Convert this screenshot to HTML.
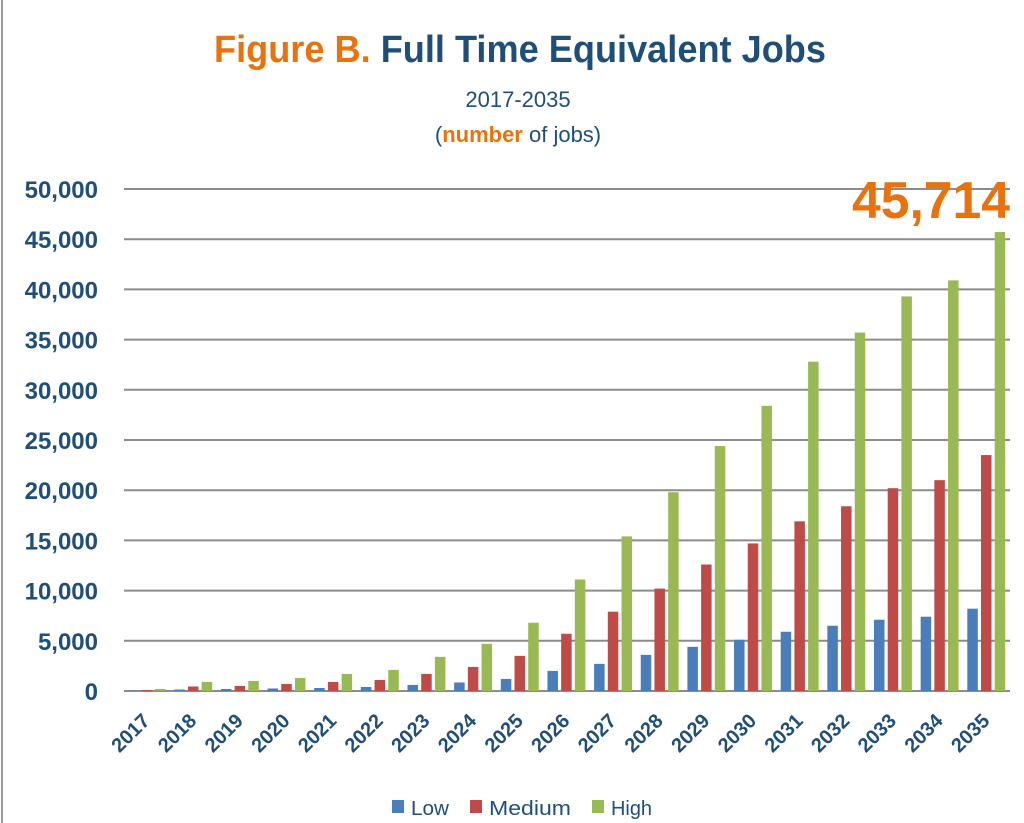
<!DOCTYPE html>
<html><head><meta charset="utf-8"><style>
html,body{margin:0;padding:0;background:#fff;}
body{width:1024px;height:823px;overflow:hidden;position:relative;font-family:"Liberation Sans",sans-serif;}
</style></head><body>
<svg width="1024" height="823" xmlns="http://www.w3.org/2000/svg" style="position:absolute;left:0;top:0">
<line x1="2" y1="0" x2="2" y2="823" stroke="#999" stroke-width="2"/>
<text x="520" y="62" text-anchor="middle" font-family="Liberation Sans Narrow, Liberation Sans, sans-serif" font-weight="bold" font-size="38" textLength="612" lengthAdjust="spacingAndGlyphs"><tspan fill="#e8720c">Figure B.</tspan><tspan fill="#1f4e79"> Full Time Equivalent Jobs</tspan></text>
<text x="518" y="107" text-anchor="middle" font-size="22" fill="#1f4e79">2017-2035</text>
<text x="518" y="142" text-anchor="middle" font-size="22" fill="#1f4e79">(<tspan fill="#e8720c" font-weight="bold">number</tspan> of jobs)</text>
<g id="grid"></g>
<g id="bars"></g>
<text x="1010" y="218" text-anchor="end" font-weight="bold" font-size="52" fill="#e8720c" textLength="158" lengthAdjust="spacingAndGlyphs">45,714</text>
<g fill="#1f4e79">
<rect x="392" y="800" width="12" height="13" fill="#4a7ebb"/><text x="411" y="815" font-size="20" textLength="38" lengthAdjust="spacingAndGlyphs">Low</text>
<rect x="470" y="800" width="12" height="13" fill="#be4b48"/><text x="489" y="815" font-size="20" textLength="82" lengthAdjust="spacingAndGlyphs">Medium</text>
<rect x="592" y="800" width="12" height="13" fill="#98b954"/><text x="611" y="815" font-size="20" textLength="41" lengthAdjust="spacingAndGlyphs">High</text>
</g>
</svg>
<script>
const ns="http://www.w3.org/2000/svg";
const g=document.getElementById('grid'),b=document.getElementById('bars');
function el(t,a,p,txt){const e=document.createElementNS(ns,t);for(const k in a)e.setAttribute(k,a[k]);if(txt!==undefined)e.textContent=txt;p.appendChild(e);return e;}
const y0=691,s=10.04/1000;
for(let v=0;v<=50000;v+=5000){const y=y0-v*s;
el('line',{x1:124,x2:1010,y1:y,y2:y,stroke:'#8c8c8c','stroke-width':2},g);
el('text',{x:98,y:y+9,'text-anchor':'end','font-weight':'bold','font-size':24,fill:'#1f4e79'},g,v.toLocaleString('en-US'));}
const L=[30,150,200,250,300,400,600,850,1200,2000,2700,3600,4400,5100,5900,6500,7100,7400,8200];
const M=[100,450,500,700,900,1100,1700,2400,3500,5700,7900,10200,12600,14700,16900,18400,20200,21000,23500];
const H=[200,900,1000,1300,1700,2100,3400,4700,6800,11100,15400,19800,24400,28400,32800,35700,39300,40900,45714];
const cols=['#4a7ebb','#be4b48','#98b954'];
for(let i=0;i<19;i++){const gx=155+i*46.65;
[L,M,H].forEach((arr,k)=>{const h=arr[i]*s;el('rect',{x:gx-27.4+k*13.7,y:y0-h,width:10.5,height:h,fill:cols[k]},b);});
const tx=gx-4,ty=722;
el('text',{x:tx,y:ty,'text-anchor':'end','font-weight':'bold','font-size':20,fill:'#1f4e79',transform:`rotate(-45 ${tx} ${ty})`},b,String(2017+i));}
</script>
</body></html>
